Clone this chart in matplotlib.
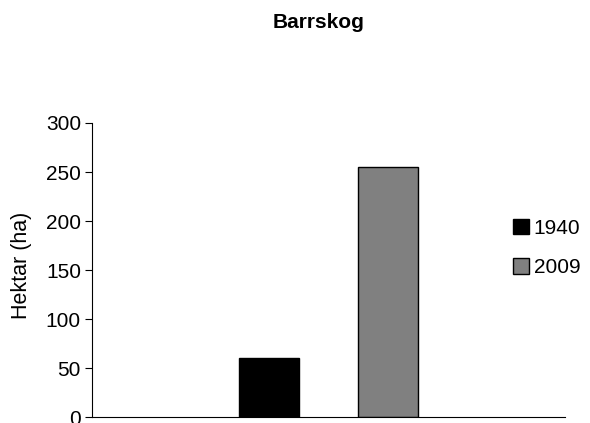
import matplotlib
matplotlib.use("Agg")
import matplotlib.pyplot as plt
from matplotlib.patches import Patch

plt.rcParams['font.family'] = ['Liberation Sans', 'DejaVu Sans']

title = "Barrskog"
series = ["1940", "2009"]
values = [60, 255]
colors = ["#000000", "#808080"]
ylabel = "Hektar (ha)"
yticks = [0, 50, 100, 150, 200, 250, 300]

W, H = 590, 423
fig = plt.figure(figsize=(W/100, H/100), dpi=100)
ax = fig.add_axes([92/W, 6/H, (565-92)/W, (417-123)/H])

offsets = [-0.125, 0.125]
for off, v, c in zip(offsets, values, colors):
    ax.bar(off, v, width=0.127, color=c, edgecolor="black", linewidth=1.0, zorder=2)

ax.set_xlim(-0.5, 0.5)
ax.set_ylim(0, 300)
ax.set_yticks(yticks)
ax.set_xticks([])
ax.tick_params(axis='y', labelsize=15, direction='out', length=5, width=0.8, pad=3)
for s in ['top', 'right']:
    ax.spines[s].set_visible(False)
ax.spines['left'].set_linewidth(0.8)
ax.spines['bottom'].set_linewidth(0.8)

fig.text(22/W, 1 - 265.5/H, ylabel, rotation=90, ha='center', va='center', fontsize=15.5)
fig.text(318.5/W, 1 - 28/H, title, ha='center', va='baseline', fontsize=15, fontweight='bold')

handles = [Patch(facecolor=c, edgecolor='black', linewidth=1.0) for c in colors]
fig.legend(handles, series, loc='center left', bbox_to_anchor=(505/W, 1 - 248/H),
           frameon=False, fontsize=15, handlelength=0.77, handleheight=0.77,
           handletextpad=0.2, labelspacing=1.0, borderaxespad=0)

fig.savefig("out.png", dpi=100)
